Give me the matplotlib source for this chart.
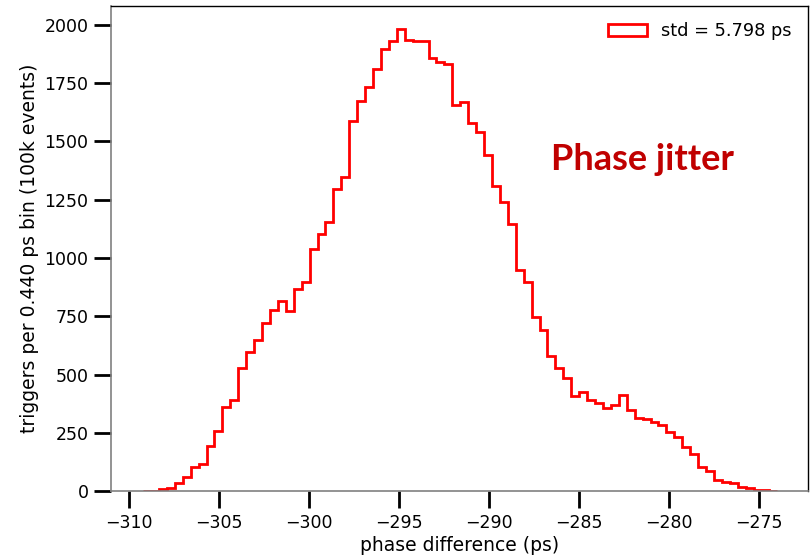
import matplotlib
matplotlib.use("Agg")
import matplotlib.pyplot as plt
import numpy as np

# phase difference histogram, 0.440 ps bins
BIN_WIDTH = 0.44
FIRST_EDGE = -309.20
counts = [
    2, 3, 10, 12, 34, 63, 105, 118, 193, 260,
    360, 390, 528, 599, 649, 723, 778, 814, 771, 868,
    897, 1037, 1103, 1156, 1297, 1349, 1586, 1672, 1734, 1808,
    1897, 1930, 1983, 1935, 1932, 1932, 1855, 1841, 1830, 1657,
    1670, 1578, 1541, 1441, 1309, 1239, 1146, 950, 898, 749,
    691, 581, 527, 484, 410, 424, 392, 377, 358, 370,
    414, 349, 314, 311, 299, 285, 255, 232, 188, 161,
    103, 88, 47, 41, 37, 17, 13, 7, 4, 1,
]
std_label = "std = 5.798 ps"
annotation = "Phase jitter"

edges = FIRST_EDGE + BIN_WIDTH * np.arange(len(counts) + 1)
centers = 0.5 * (edges[:-1] + edges[1:])

fig = plt.figure(figsize=(8.11, 5.55), dpi=100)
ax = fig.add_axes([0.1365, 0.1148, 0.8598, 0.8744])

ax.hist(centers, bins=edges, weights=counts, histtype="step",
        color="red", linewidth=2, label=std_label)

ax.set_xlim(-311, -272.3)
ax.set_ylim(0, 2080)
ax.set_xticks(np.arange(-310, -274, 5))
ax.set_yticks(np.arange(0, 2001, 250))

ax.tick_params(direction="out", length=12, width=2, labelsize=12.5, pad=4)
for side in ("left", "bottom"):
    ax.spines[side].set_color("#808080")
    ax.spines[side].set_linewidth(1.2)
for side in ("top", "right"):
    ax.spines[side].set_color("black")
    ax.spines[side].set_linewidth(1.0)

ax.set_xlabel("phase difference (ps)", fontsize=13.5, labelpad=3)
ax.set_ylabel("triggers per 0.440 ps bin (100k events)", fontsize=13.5, labelpad=4)

ax.legend(loc="upper right", frameon=False, fontsize=12.8, handlelength=2.2,
          borderaxespad=0.5)

ax.text(0.631, 0.683, annotation, transform=ax.transAxes, color="#C00000",
        fontsize=26, fontweight="bold", family=["Lato", "DejaVu Sans"],
        va="center", ha="left")

fig.savefig("out.png", dpi=100)
